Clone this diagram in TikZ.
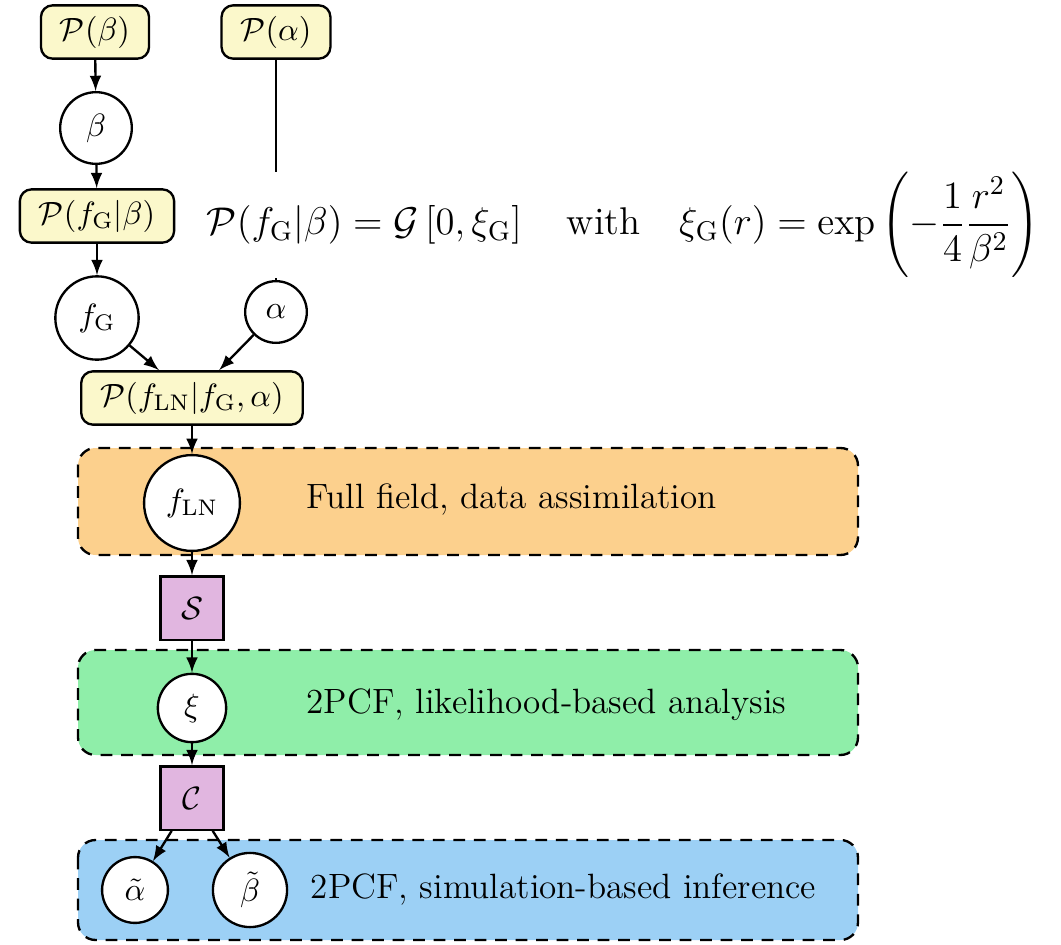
\RequirePackage{fix-cm}
\documentclass[tikz,border=0pt]{standalone}
\usepackage{amsmath,tikz}

\definecolor{factorfill}{HTML}{FBF8CB}
\definecolor{funcfill}{HTML}{E1B6E0}
\definecolor{fullfill}{HTML}{FCD08D}
\definecolor{likefill}{HTML}{8FEEA9}
\definecolor{simfill}{HTML}{9CD0F5}

\tikzset{
	factor/.style={draw, thick, rounded corners=4pt, fill=factorfill, minimum height=0.64cm, inner xsep=6.5pt},
	var/.style={circle, draw, thick, fill=white, minimum size=#1, inner sep=1pt},
	func/.style={draw, thick, fill=funcfill, minimum size=0.76cm},
	region/.style={draw, thick, dashed, dash pattern=on 4pt off 3pt, rounded corners=6pt},
	levellabel/.style={anchor=west, font=\fontsize{12}{14}\selectfont}
}

\begin{document}
\begin{tikzpicture}[>=latex, thick, font=\fontsize{11}{13}\selectfont]
		\useasboundingbox (0,0) rectangle (12.732,-11.34);

		% analysis levels
		\draw[region, fill=fullfill] (0.936,-5.376) rectangle (10.296,-6.66);
		\draw[region, fill=likefill] (0.936,-7.8) rectangle (10.296,-9.06);
		\draw[region, fill=simfill] (0.936,-10.08) rectangle (10.296,-11.28);

		\draw (1.14,-0.384) node [factor] (pb) {$\mathcal{P}(\beta)$};
		\draw (3.312,-0.384) node [factor] (pa) {$\mathcal{P}(\alpha)$};
		\draw (1.152,-1.536) node [var=0.86cm] (beta) {$\beta$};
		\draw (1.164,-2.592) node [factor] (pfg) {$\mathcal{P}(f_{\mathrm{G}}|\beta)$};
		\draw (1.164,-3.816) node [var=1.0cm] (fg) {$f_{\mathrm{G}}$};
		\draw (3.312,-3.744) node [var=0.74cm] (alpha) {$\alpha$};
		\draw (2.304,-4.776) node [factor] (pfln) {$\mathcal{P}(f_{\mathrm{LN}}|f_{\mathrm{G}},\alpha)$};

		\draw (pa) -- (alpha);
		\draw (2.35,-2.70) node [anchor=west, fill=white, inner ysep=0pt, font=\fontsize{13.2}{16}\selectfont] (prior)
			{$\displaystyle \mathcal{P}(f_{\mathrm{G}}|\beta) = \mathcal{G}\left[0,\xi_{\mathrm{G}}\right] \quad\text{with}\quad \xi_{\mathrm{G}}(r) = \exp\left(-\frac{1}{4}\frac{r^2}{\beta^2}\right)$};

		\draw (2.304,-6.036) node [var=1.15cm] (fln) {$f_{\mathrm{LN}}$};
		\draw (3.55,-6.0) node [levellabel] (full) {Full field, data assimilation};
		\draw (2.304,-7.296) node [func] (summ) {$\mathcal{S}$};
		\draw (2.304,-8.496) node [var=0.82cm] (xi) {$\xi$};
		\draw (3.55,-8.46) node [levellabel] (like) {2PCF, likelihood-based analysis};
		\draw (2.304,-9.576) node [func] (comp) {$\mathcal{C}$};
		\draw (1.62,-10.68) node [var=0.79cm] (at) {$\tilde{\alpha}$};
		\draw (3.0,-10.68) node [var=0.89cm] (bt) {$\tilde{\beta}$};
		\draw (3.6,-10.68) node [levellabel] (sbi) {2PCF, simulation-based inference};

		\draw[->]
		(pb) edge (beta)
		(beta) edge (pfg)
		(pfg) edge (fg)
		(fg) edge (pfln)
		(alpha) edge (pfln)
		(pfln) edge (fln)
		(fln) edge (summ)
		(summ) edge (xi)
		(xi) edge (comp)
		(comp) edge (at)
			edge (bt);
	\end{tikzpicture}
\end{document}
